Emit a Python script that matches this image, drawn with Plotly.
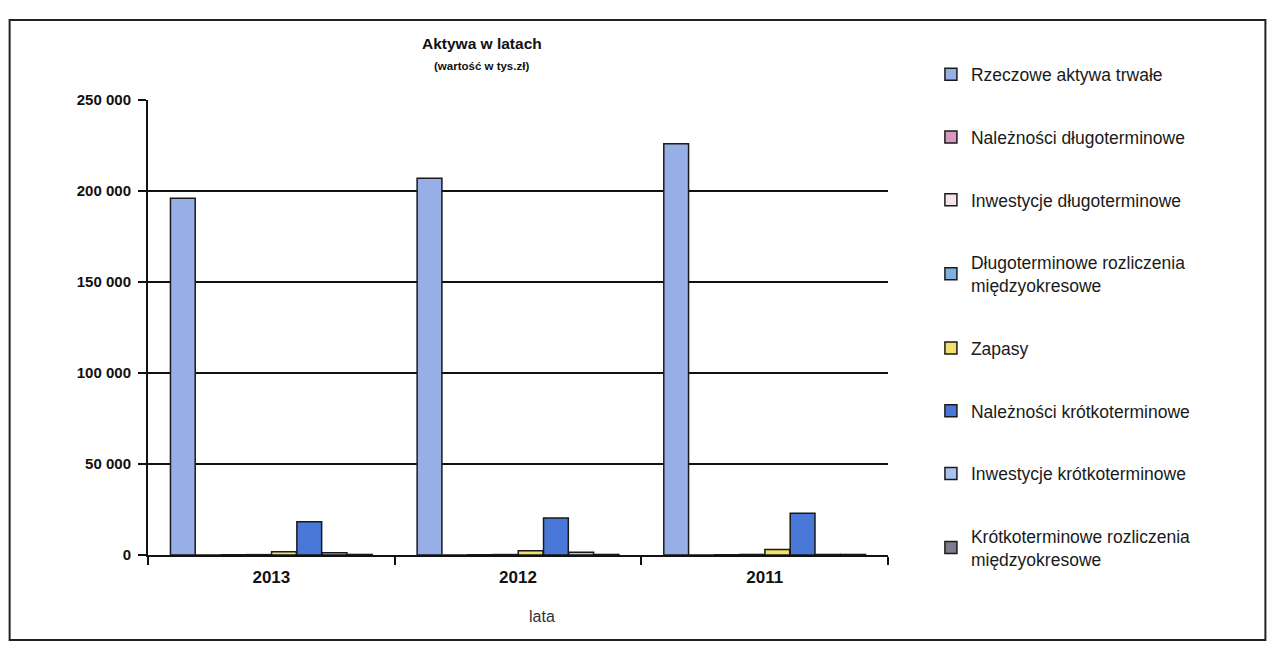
import plotly.graph_objects as go

years = ["2013", "2012", "2011"]

series_names = [
    "Rzeczowe aktywa trwałe",
    "Należności długoterminowe",
    "Inwestycje długoterminowe",
    "Długoterminowe rozliczenia<br>międzyokresowe",
    "Zapasy",
    "Należności krótkoterminowe",
    "Inwestycje krótkoterminowe",
    "Krótkoterminowe rozliczenia<br>międzyokresowe",
]

rzeczowe_aktywa_trwale = [196000, 207000, 226000]
naleznosci_dlugoterminowe = [0, 0, 0]
inwestycje_dlugoterminowe = [150, 150, 150]
dlugoterminowe_rozliczenia = [200, 250, 300]
zapasy = [1800, 2400, 3000]
naleznosci_krotkoterminowe = [18300, 20300, 23000]
inwestycje_krotkoterminowe = [1200, 1500, 300]
krotkoterminowe_rozliczenia = [300, 300, 300]

series_values = [
    rzeczowe_aktywa_trwale,
    naleznosci_dlugoterminowe,
    inwestycje_dlugoterminowe,
    dlugoterminowe_rozliczenia,
    zapasy,
    naleznosci_krotkoterminowe,
    inwestycje_krotkoterminowe,
    krotkoterminowe_rozliczenia,
]

colors = [
    "#98aee6",
    "#d69ac0",
    "#f4e4ec",
    "#7fb0e0",
    "#f2e06a",
    "#4a78d8",
    "#a8c4ee",
    "#7c7c8c",
]

y_ticks = [0, 50000, 100000, 150000, 200000, 250000]

FONT = "Liberation Sans, Arial, sans-serif"

fig = go.Figure()
for i, (name, vals, col) in enumerate(zip(series_names, series_values, colors)):
    fig.add_trace(go.Bar(
        x=years, y=vals, name=name,
        marker=dict(color=col, line=dict(color="#1a1a1a", width=1.5)),
        legendgroup=f"g{i}",
    ))

fig.update_layout(
    width=1275, height=668,
    paper_bgcolor="white", plot_bgcolor="white",
    margin=dict(l=140, r=395, t=92, b=121),
    barmode="group", bargap=0.18, bargroupgap=0.02,
    separators=", ",
    font=dict(family=FONT, color="#111111"),
    showlegend=True,
    legend=dict(
        x=1.058, y=1.096, xanchor="left", yanchor="top",
        font=dict(family=FONT, size=17.5, color="#1a1a1a"),
        tracegroupgap=37, traceorder="grouped",
        bgcolor="rgba(0,0,0,0)", maxheight=1000,
    ),
    xaxis=dict(
        type="category",
        showline=True, linecolor="#111111", linewidth=2,
        ticks="outside", tickson="boundaries", ticklen=8, tickwidth=2, tickcolor="#111111",
        tickfont=dict(family=FONT, size=17, color="#111111", weight="bold"),
        ticklabelstandoff=6,
    ),
    yaxis=dict(
        range=[0, 250000], tickvals=y_ticks, tickformat=",d",
        showline=True, linecolor="#111111", linewidth=2,
        showgrid=True, gridcolor="#111111", gridwidth=2,
        ticks="outside", ticklen=8, tickwidth=2, tickcolor="#111111",
        tickfont=dict(family=FONT, size=15, color="#111111", weight="bold"),
        ticklabelstandoff=4,
        zeroline=False,
    ),
    annotations=[
        dict(text="<b>Aktywa w latach</b>", x=0.451, y=1.100, xref="paper", yref="paper",
             showarrow=False, font=dict(family=FONT, size=15.5, color="#111111"),
             xanchor="center", yanchor="bottom"),
        dict(text="<b>(wartość w tys.zł)</b>", x=0.451, y=1.092, xref="paper", yref="paper",
             showarrow=False, font=dict(family=FONT, size=11.5, color="#111111"),
             xanchor="center", yanchor="top"),
        dict(text="lata", x=0.532, y=-0.136, xref="paper", yref="paper",
             showarrow=False, font=dict(family=FONT, size=16, color="#333333"),
             xanchor="center", yanchor="middle"),
    ],
    shapes=[
        dict(type="rect", xref="paper", yref="paper",
             x0=-0.187, x1=1.51, y0=-0.187, y1=1.176,
             line=dict(color="#222222", width=2), fillcolor="rgba(0,0,0,0)", layer="below"),
    ],
)

fig.write_html("out.html")
